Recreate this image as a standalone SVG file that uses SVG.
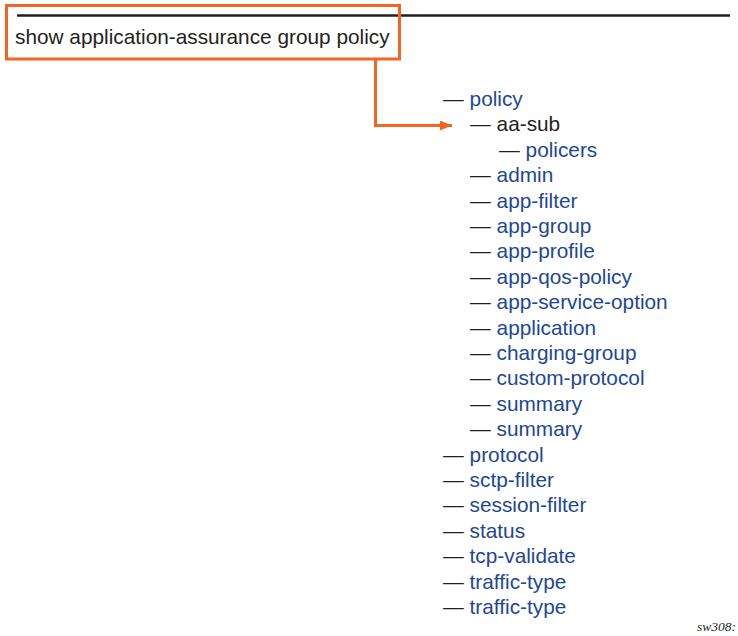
<svg xmlns="http://www.w3.org/2000/svg" width="738" height="636" viewBox="0 0 738 636">
<defs>
<style>
.t{font-family:"Liberation Sans",Arial,sans-serif;font-size:20.8px;fill:#231f20}
.b{fill:#1e4796}
.o{fill:none;stroke:#f26522;stroke-width:3}
</style>
<marker id="ah" viewBox="0 0 12 10" refX="12" refY="5" markerWidth="12" markerHeight="10" markerUnits="userSpaceOnUse" orient="auto">
<path d="M0,0 L12,5 L0,10 Z" fill="#f26522"/>
</marker>
</defs>
<rect width="738" height="636" fill="#fff"/>
<line x1="17" y1="15.5" x2="730" y2="15.5" stroke="#231f20" stroke-width="2.5"/>
<g id="cmd">
<rect class="o" x="6.5" y="5.5" width="393" height="53.5"/>
<text class="t" x="15" y="43.5">show application-assurance group policy</text>
</g>
<g id="connectors">
<path class="o" d="M375.5,59 V125.5 H452" marker-end="url(#ah)"/>
</g>
<g id="tree" class="t">
<g id="n-policy"><text x="443" y="106">— <tspan class="b">policy</tspan></text></g>
<g id="n-aa-sub"><text x="470" y="131.4">— aa-sub</text></g>
<g id="n-policers"><text x="499" y="156.8">— <tspan class="b">policers</tspan></text></g>
<g id="n-admin"><text x="470" y="182.2">— <tspan class="b">admin</tspan></text></g>
<g id="n-app-filter"><text x="470" y="207.6">— <tspan class="b">app-filter</tspan></text></g>
<g id="n-app-group"><text x="470" y="233">— <tspan class="b">app-group</tspan></text></g>
<g id="n-app-profile"><text x="470" y="258.4">— <tspan class="b">app-profile</tspan></text></g>
<g id="n-app-qos-policy"><text x="470" y="283.8">— <tspan class="b">app-qos-policy</tspan></text></g>
<g id="n-app-service-option"><text x="470" y="309.2">— <tspan class="b">app-service-option</tspan></text></g>
<g id="n-application"><text x="470" y="334.6">— <tspan class="b">application</tspan></text></g>
<g id="n-charging-group"><text x="470" y="360">— <tspan class="b">charging-group</tspan></text></g>
<g id="n-custom-protocol"><text x="470" y="385.4">— <tspan class="b">custom-protocol</tspan></text></g>
<g id="n-summary1"><text x="470" y="410.8">— <tspan class="b">summary</tspan></text></g>
<g id="n-summary2"><text x="470" y="436.2">— <tspan class="b">summary</tspan></text></g>
<g id="n-protocol"><text x="443" y="461.6">— <tspan class="b">protocol</tspan></text></g>
<g id="n-sctp-filter"><text x="443" y="487">— <tspan class="b">sctp-filter</tspan></text></g>
<g id="n-session-filter"><text x="443" y="512.4">— <tspan class="b">session-filter</tspan></text></g>
<g id="n-status"><text x="443" y="537.8">— <tspan class="b">status</tspan></text></g>
<g id="n-tcp-validate"><text x="443" y="563.2">— <tspan class="b">tcp-validate</tspan></text></g>
<g id="n-traffic-type1"><text x="443" y="588.6">— <tspan class="b">traffic-type</tspan></text></g>
<g id="n-traffic-type2"><text x="443" y="614">— <tspan class="b">traffic-type</tspan></text></g>
</g>
<text x="697" y="631" style="font-family:'Liberation Serif','Times New Roman',serif;font-style:italic;font-size:13.5px;fill:#231f20">sw308:</text>
</svg>
